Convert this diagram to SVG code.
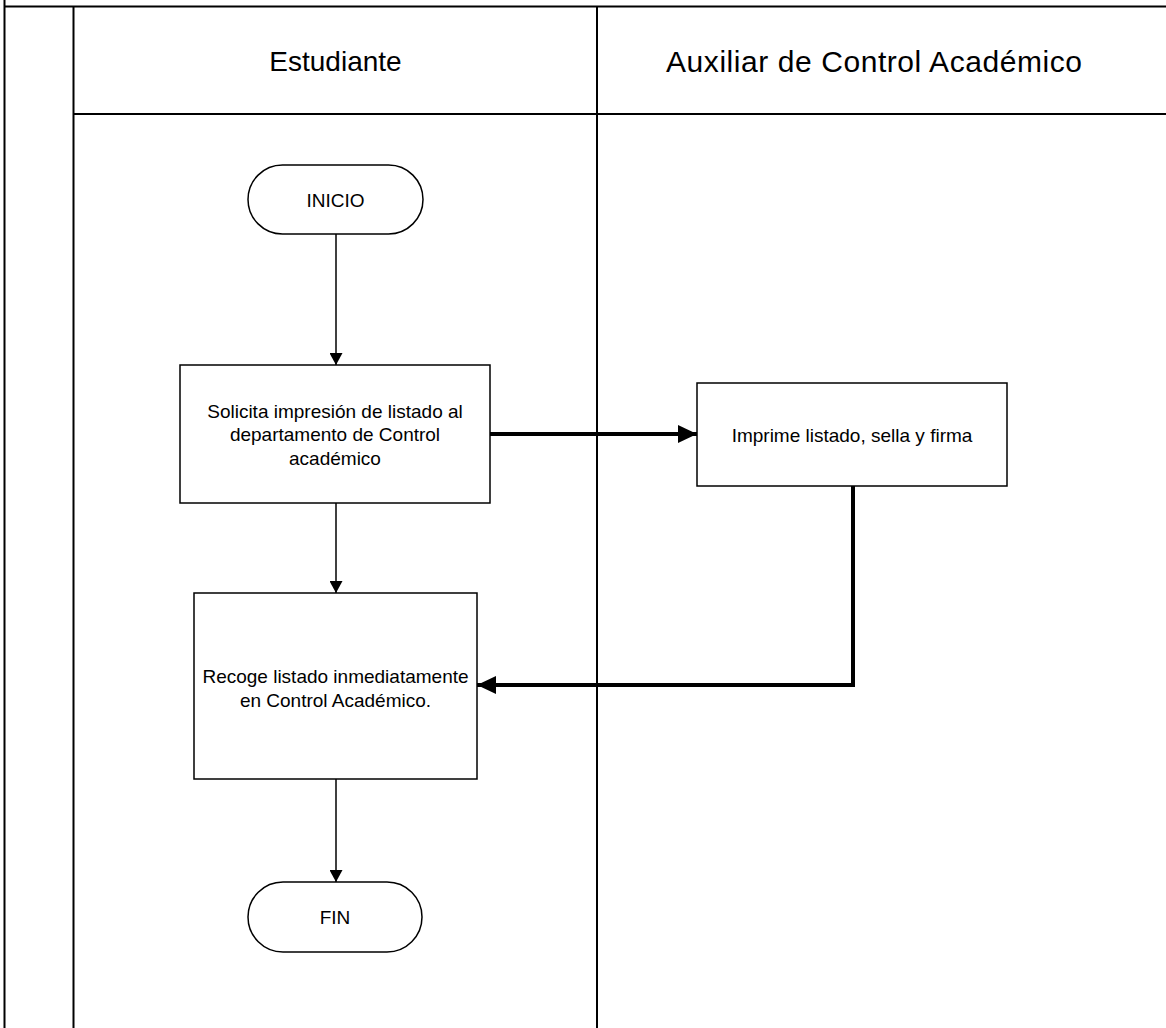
<svg xmlns="http://www.w3.org/2000/svg" width="1166" height="1028" viewBox="0 0 1166 1028">
  <style>
    .lane { fill: none; stroke: #000; stroke-width: 2; }
    .shape { fill: #fff; stroke: #000; stroke-width: 1.5; }
    .head { font-family: "Liberation Sans", Arial, sans-serif; font-size: 28px; fill: #000; text-anchor: middle; dominant-baseline: central; }
    .label { font-family: "Liberation Sans", Arial, sans-serif; font-size: 19px; fill: #000; text-anchor: middle; dominant-baseline: central; }
    .flow { fill: none; stroke: #000; stroke-width: 1.5; }
    .flow-bold { fill: none; stroke: #000; stroke-width: 4; }
  </style>
  <defs>
    <marker id="arrow" viewBox="0 0 12 13" refX="12" refY="6.5" markerWidth="12" markerHeight="13" markerUnits="userSpaceOnUse" orient="auto">
      <path d="M0,0 L12,6.5 L0,13 Z" fill="#000"/>
    </marker>
    <marker id="arrow-bold" viewBox="0 0 19 18" refX="19" refY="9" markerWidth="19" markerHeight="18" markerUnits="userSpaceOnUse" orient="auto">
      <path d="M0,0 L19,9 L0,18 Z" fill="#000"/>
    </marker>
  </defs>

  <rect width="1166" height="1028" fill="#fff"/>

  <!-- swimlane frame -->
  <g id="lanes">
    <line class="lane" x1="4.5" y1="6.5" x2="1166" y2="6.5"/>
    <line class="lane" x1="4.5" y1="0" x2="4.5" y2="1028"/>
    <line class="lane" x1="73.5" y1="6" x2="73.5" y2="1028"/>
    <line class="lane" x1="73.5" y1="114" x2="1166" y2="114"/>
    <line class="lane" x1="597" y1="6" x2="597" y2="1028"/>
    <text class="head" x="335.5" y="61">Estudiante</text>
    <text class="head" x="874" y="61" style="font-size:30px" textLength="416" lengthAdjust="spacing">Auxiliar de Control Académico</text>
  </g>

  <!-- connectors -->
  <g id="connectors">
    <line class="flow" x1="336" y1="234" x2="336" y2="365" marker-end="url(#arrow)"/>
    <line class="flow-bold" x1="490" y1="434" x2="697" y2="434" marker-end="url(#arrow-bold)"/>
    <line class="flow" x1="336" y1="503" x2="336" y2="593" marker-end="url(#arrow)"/>
    <polyline class="flow-bold" points="853,486 853,685 477,685" marker-end="url(#arrow-bold)"/>
    <line class="flow" x1="336" y1="779" x2="336" y2="882" marker-end="url(#arrow)"/>
  </g>

  <g id="inicio">
    <rect class="shape" x="248" y="165" width="175" height="69" rx="34.5" ry="34.5"/>
    <text class="label" x="335.5" y="200">INICIO</text>
  </g>

  <g id="solicita">
    <rect class="shape" x="180" y="365" width="310" height="138"/>
    <text class="label" x="335" y="411">Solicita impresión de listado al</text>
    <text class="label" x="335" y="434.5">departamento de Control</text>
    <text class="label" x="335" y="458">académico</text>
  </g>

  <g id="imprime">
    <rect class="shape" x="697" y="383" width="310" height="103"/>
    <text class="label" x="852" y="435">Imprime listado, sella y firma</text>
  </g>

  <g id="recoge">
    <rect class="shape" x="194" y="593" width="283" height="186"/>
    <text class="label" x="335.5" y="676">Recoge listado inmediatamente</text>
    <text class="label" x="335.5" y="700">en Control Académico.</text>
  </g>

  <g id="fin">
    <rect class="shape" x="248" y="882" width="174" height="70" rx="35" ry="35"/>
    <text class="label" x="335" y="917">FIN</text>
  </g>
</svg>
